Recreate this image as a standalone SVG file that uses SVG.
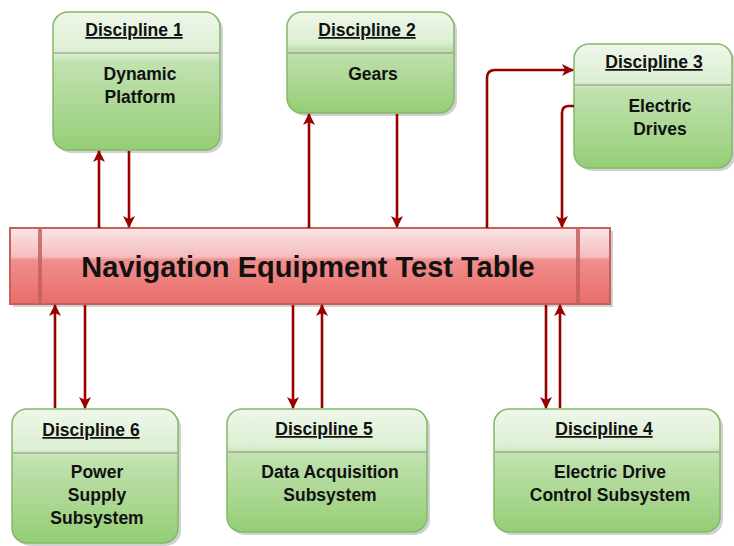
<svg xmlns="http://www.w3.org/2000/svg" width="734" height="546" viewBox="0 0 734 546">
<defs>
  <linearGradient id="gG" x1="0" y1="0" x2="0" y2="1">
    <stop offset="0" stop-color="#eef7ea"/>
    <stop offset="0.3" stop-color="#dcefd2"/>
    <stop offset="0.36" stop-color="#c2e2b1"/>
    <stop offset="1" stop-color="#95ce75"/>
  </linearGradient>
  <linearGradient id="gR" x1="0" y1="0" x2="0" y2="1">
    <stop offset="0" stop-color="#fbe6e6"/>
    <stop offset="0.38" stop-color="#f4bcbb"/>
    <stop offset="0.42" stop-color="#ef8f8d"/>
    <stop offset="1" stop-color="#ea6c68"/>
  </linearGradient>
  <marker id="ah" viewBox="0 0 12 14" refX="11" refY="6" markerWidth="12" markerHeight="14" markerUnits="userSpaceOnUse" orient="auto">
    <path d="M0,0 L12,6 L0,12 L3,6 Z" fill="#990000"/>
  </marker>
  <style>
    .box{fill:url(#gG);stroke:#84b86a;stroke-width:1.5}
    .shd{fill:#000;opacity:0.18}
    .sep{stroke:#8a8a8a;stroke-width:1.2}
    .t{font-family:"Liberation Sans",Arial,sans-serif;font-weight:bold;font-size:17.5px;fill:#111;text-anchor:middle}
    .u{text-decoration:underline}
    .c{fill:none;stroke:#990000;stroke-width:2.6;marker-end:url(#ah)}
    .bt{font-family:"Liberation Sans",Arial,sans-serif;font-weight:bold;font-size:29px;fill:#111;text-anchor:middle}
  </style>
</defs>

<g id="bar">
  <rect x="13" y="231" width="600" height="76" class="shd"/>
  <rect x="10" y="228" width="600" height="76" fill="url(#gR)" stroke="#c6605c" stroke-width="2"/>
  <rect x="38" y="229" width="4" height="74" fill="#c6605c" opacity="0.85"/>
  <rect x="576" y="229" width="4" height="74" fill="#c6605c" opacity="0.85"/>
  <text x="308" y="277" class="bt">Navigation Equipment Test Table</text>
</g>

<g id="d1">
  <rect x="56" y="15" width="167" height="138" rx="15" class="shd"/>
  <rect x="53" y="12" width="167" height="138" rx="15" class="box"/>
  <line x1="54" y1="53" x2="219" y2="53" class="sep"/>
  <text x="134" y="36" class="t u">Discipline 1</text>
  <text x="140" y="80" class="t">Dynamic</text>
  <text x="140" y="103" class="t">Platform</text>
</g>

<g id="d2">
  <rect x="290" y="15" width="167" height="101" rx="15" class="shd"/>
  <rect x="287" y="12" width="167" height="101" rx="15" class="box"/>
  <line x1="288" y1="53" x2="453" y2="53" class="sep"/>
  <text x="367" y="36" class="t u">Discipline 2</text>
  <text x="373" y="80" class="t">Gears</text>
</g>

<g id="d3">
  <rect x="577" y="47" width="158" height="124" rx="15" class="shd"/>
  <rect x="574" y="44" width="158" height="124" rx="15" class="box"/>
  <line x1="575" y1="85" x2="731" y2="85" class="sep"/>
  <text x="654" y="68" class="t u">Discipline 3</text>
  <text x="660" y="112" class="t">Electric</text>
  <text x="660" y="135" class="t">Drives</text>
</g>

<g id="d6">
  <rect x="15" y="412" width="166" height="134" rx="15" class="shd"/>
  <rect x="12" y="409" width="166" height="134" rx="15" class="box"/>
  <line x1="13" y1="453" x2="177" y2="453" class="sep"/>
  <text x="91" y="436" class="t u">Discipline 6</text>
  <text x="97" y="478" class="t">Power</text>
  <text x="97" y="501" class="t">Supply</text>
  <text x="97" y="524" class="t">Subsystem</text>
</g>

<g id="d5">
  <rect x="230" y="412" width="200" height="123" rx="15" class="shd"/>
  <rect x="227" y="409" width="200" height="123" rx="15" class="box"/>
  <line x1="228" y1="452" x2="426" y2="452" class="sep"/>
  <text x="324" y="435" class="t u">Discipline 5</text>
  <text x="330" y="478" class="t">Data Acquisition</text>
  <text x="330" y="501" class="t">Subsystem</text>
</g>

<g id="d4">
  <rect x="497" y="412" width="226" height="123" rx="15" class="shd"/>
  <rect x="494" y="409" width="226" height="123" rx="15" class="box"/>
  <line x1="495" y1="452" x2="719" y2="452" class="sep"/>
  <text x="604" y="435" class="t u">Discipline 4</text>
  <text x="610" y="478" class="t">Electric Drive</text>
  <text x="610" y="501" class="t">Control Subsystem</text>
</g>

<g id="connectors">
  <path d="M99,228 L99,151" class="c"/>
  <path d="M129,151 L129,227" class="c"/>
  <path d="M309,228 L309,114" class="c"/>
  <path d="M397,114 L397,227" class="c"/>
  <path d="M487,228 L487,78 Q487,70 495,70 L573,70" class="c"/>
  <path d="M574,106 L569,106 Q562,106 562,113 L562,227" class="c"/>
  <path d="M55,408 L55,305" class="c"/>
  <path d="M85,305 L85,408" class="c"/>
  <path d="M293,305 L293,408" class="c"/>
  <path d="M322,408 L322,305" class="c"/>
  <path d="M546,305 L546,408" class="c"/>
  <path d="M560,408 L560,305" class="c"/>
</g>
</svg>
